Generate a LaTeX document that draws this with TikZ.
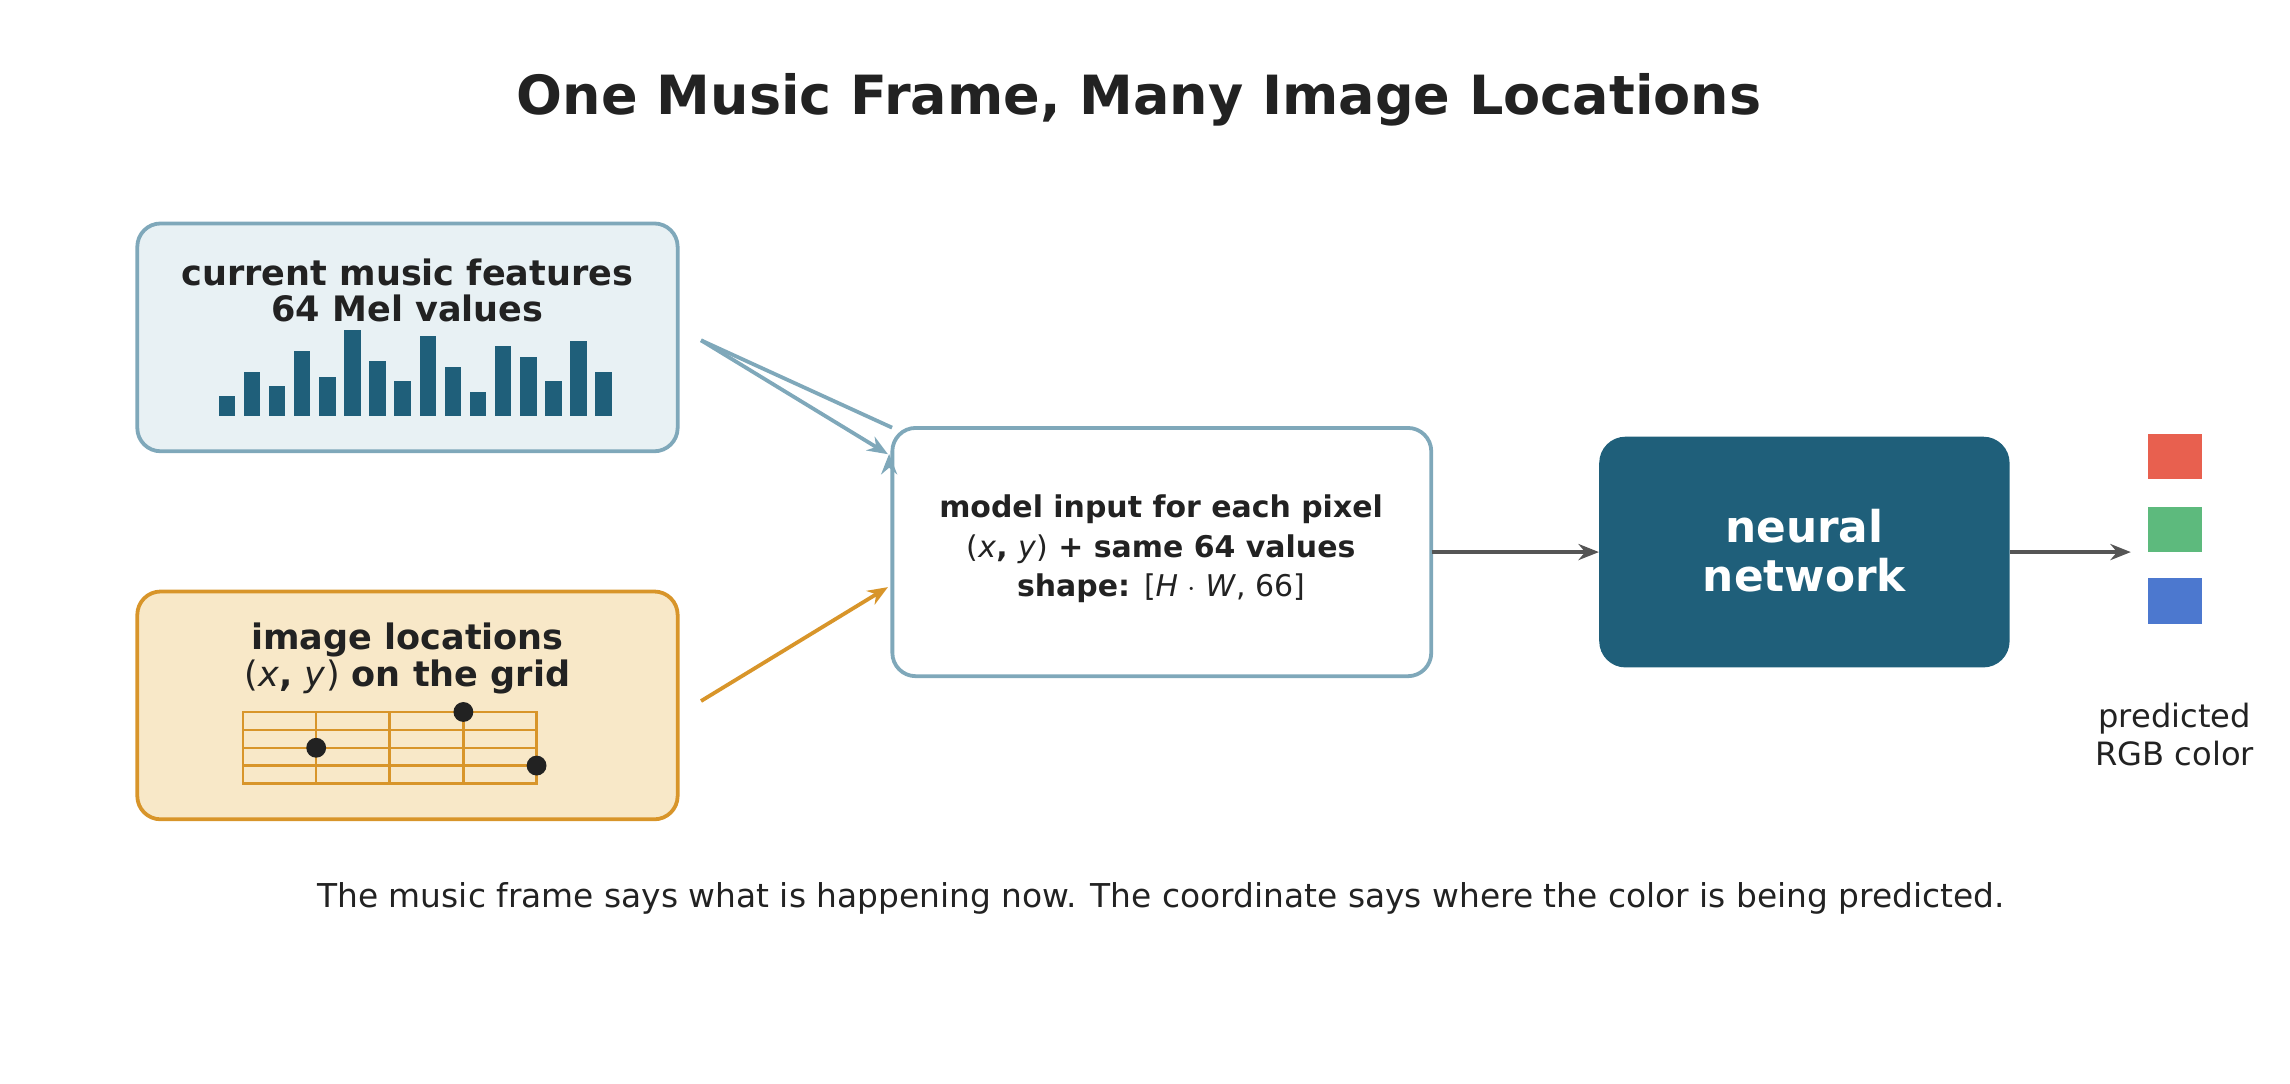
\documentclass[tikz,border=0pt]{standalone}
\usepackage{fontspec}
\setmainfont{DejaVu Sans}
\usetikzlibrary{arrows.meta}
\definecolor{tc}{HTML}{222222}
\definecolor{bluefill}{HTML}{E8F1F4}
\definecolor{blueedge}{HTML}{7FA8BA}
\definecolor{orfill}{HTML}{F8E8C8}
\definecolor{oredge}{HTML}{D8952A}
\definecolor{navy}{HTML}{1F5F7A}
\definecolor{arr}{HTML}{555555}
\definecolor{cr}{HTML}{E8604F}
\definecolor{cg}{HTML}{5DBA7D}
\definecolor{cb}{HTML}{4C78CF}
\newcommand{\mi}[1]{\textmd{\textit{#1}}}
\begin{document}
\begin{tikzpicture}[x=1pt,y=-1pt,
  box/.style={rounded corners=16pt,line width=2.6pt},
  lbl/.style={text=tc,align=center,font=\bfseries\fontsize{24}{28}\selectfont},
  conn/.style={line width=2.6pt,-{Stealth[length=14pt,width=11pt]}},
  bar/.style={fill=navy}]
\useasboundingbox (0,0) rectangle (1568,742);
\node[text=tc,font=\bfseries\fontsize{37}{40}\selectfont] (title) at (780,68) {One Music Frame, Many Image Locations};
% boxes
\draw[box,draw=blueedge,fill=bluefill] (94,153) rectangle (464,309);
\node[inner sep=0,minimum width=370pt,minimum height=156pt] (music) at (279,231) {};
\draw[box,draw=oredge,fill=orfill] (94,405) rectangle (464,561);
\node[inner sep=0,minimum width=370pt,minimum height=156pt] (loc) at (279,483) {};
\draw[box,draw=blueedge,fill=white] (611,293) rectangle (980,463);
\node[inner sep=0,minimum width=369pt,minimum height=170pt] (inp) at (795.5,378) {};
\fill[navy,rounded corners=18pt] (1095,299) rectangle (1376,457);
\node[inner sep=0,minimum width=281pt,minimum height=158pt] (nn) at (1235.5,378) {};
% texts
\node[lbl] (t1) at (279,199) {current music features\\[-3pt]64 Mel values};
\node[lbl] (t2) at (279,451) {image locations\\[-3pt]\textmd{(}\mi{x}, \mi{y}\textmd{)} on the grid};
\node[lbl,font=\bfseries\fontsize{20.5}{28}\selectfont] (t3) at (795,376) {model input for each pixel\\[-1pt]\textmd{(}\mi{x}, \mi{y}\textmd{)} + same 64 values\\[-1pt]shape: \textmd{[\mi{H} $\cdot$ \mi{W}, 66]}};
\node[text=white,align=center,font=\bfseries\fontsize{30}{33}\selectfont] (t4) at (1235.5,377) {neural\\network};
% bars
\foreach \h [count=\i from 0] in {13.6,30.4,20.4,44.8,27.2,59,37.5,23.9,55.2,34,16.8,48.4,40.8,23.9,51.6,30.4}
  \fill[bar] (149.7+\i*17.2,285) rectangle ++(11.3,-\h);
% grid
\draw[oredge,line width=1.6pt] (166.4,487.5) rectangle (367.4,536.5);
\foreach \x in {216.5,266.6,317.3} \draw[oredge,line width=1.6pt] (\x,487.5) -- (\x,536.5);
\foreach \y in {499.8,512,524.2} \draw[oredge,line width=1.6pt] (166.4,\y) -- (367.4,\y);
\foreach \p/\q in {317.3/487.5,216.5/512,367.4/524.2} \fill[tc] (\p,\q) circle (6.8pt);
% output squares
\fill[cr] (1471,297) rectangle (1508,328);
\fill[cg] (1471,347) rectangle (1508,378);
\fill[cb] (1471,396) rectangle (1508,427);
\coordinate (out) at (1459,378);
\node[text=tc,align=center,font=\fontsize{22}{26}\selectfont] (pred) at (1489,503) {predicted\\RGB color};
% connectors
\draw[conn,blueedge] (480,233) -- (inp.north west) ++(-2,18);
\draw[conn,blueedge] (480,233) -- (608,311);
\draw[conn,oredge] (480,480) -- (608,402);
\draw[conn,arr] (inp.east) -- (nn.west);
\draw[conn,arr] (nn.east) -- (out);
\node[text=tc,font=\fontsize{22.5}{26}\selectfont] (cap) at (795,615) {The music frame says what is happening now. The coordinate says where the color is being predicted.};
\end{tikzpicture}
\end{document}
